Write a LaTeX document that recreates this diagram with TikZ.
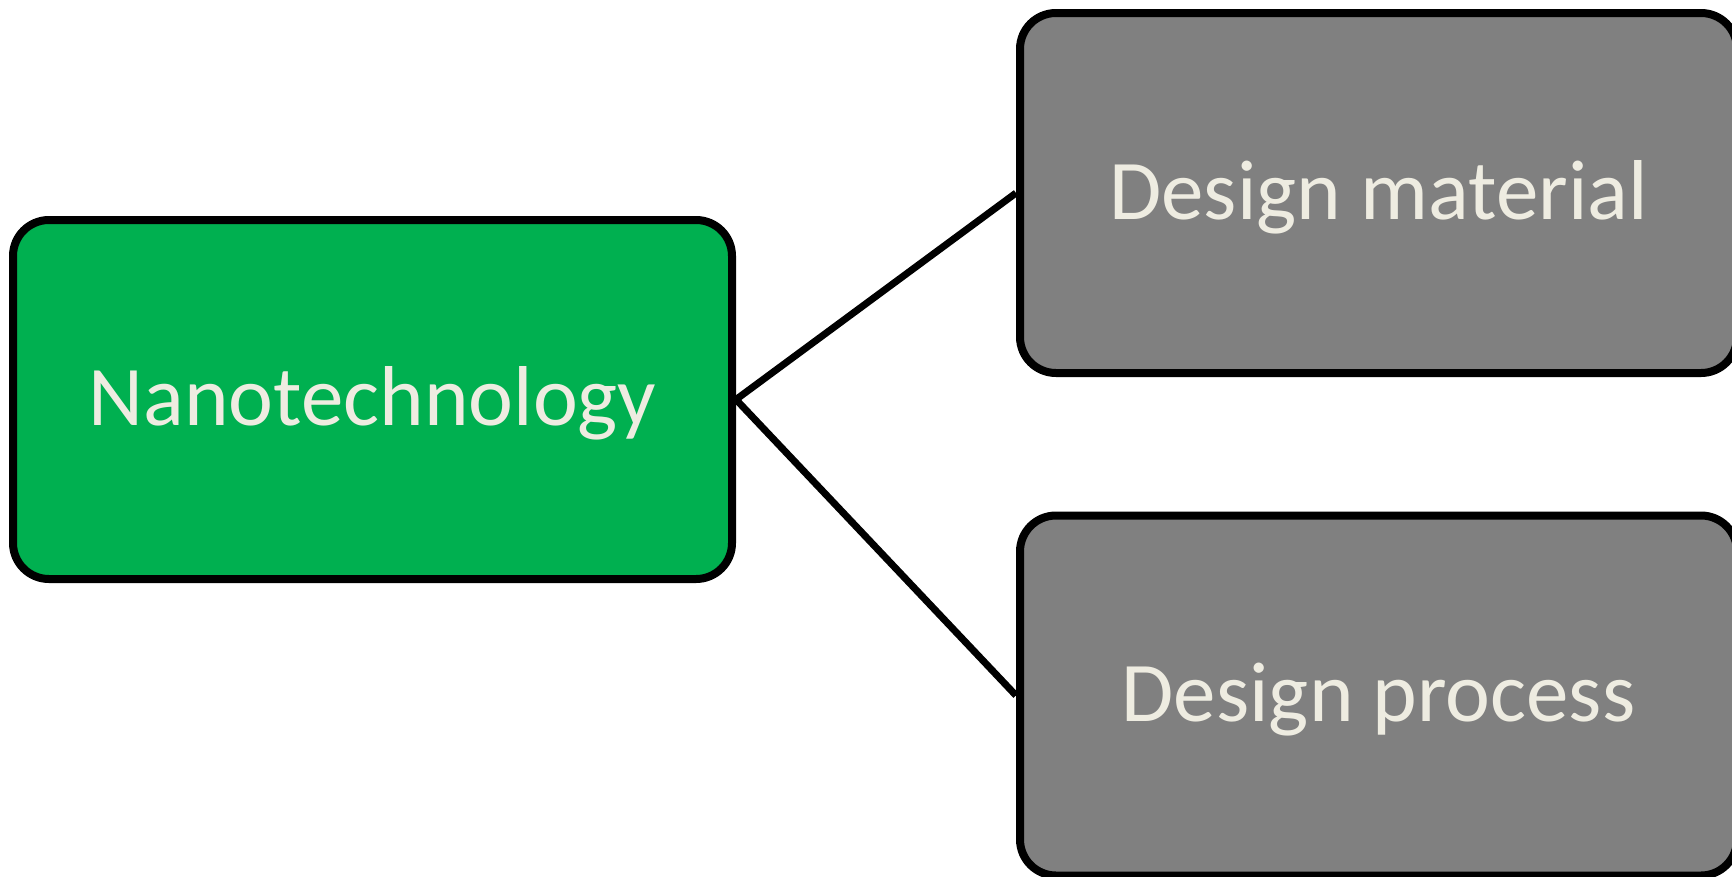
\documentclass[tikz,border=0pt]{standalone}
\usepackage{fontspec}
\setmainfont{Carlito}
\definecolor{nanogreen}{HTML}{00B050}
\definecolor{boxgray}{HTML}{808080}
\definecolor{txtcream}{HTML}{EEECE1}
\begin{document}
\begin{tikzpicture}[x=1pt,y=-1pt,
  blockbox/.style={draw=black, line width=8pt, rounded corners=36pt,
    text=txtcream, font=\fontsize{85}{95}\selectfont,
    text height=52pt, text depth=0pt, inner sep=0pt},
  link/.style={draw=black, line width=7pt}]
\useasboundingbox (0,0) rectangle (1732,876);
\node[blockbox, fill=nanogreen, minimum width=719pt, minimum height=359pt] (nano) at (372.5,399.5) {Nanotechnology};
\node[blockbox, fill=boxgray, minimum width=717pt, minimum height=360pt] (mat) at (1378.5,193) {Design material};
\node[blockbox, fill=boxgray, minimum width=717pt, minimum height=360pt] (proc) at (1378.5,695.5) {Design process};
\draw[link] (nano.east) -- (mat.west);
\draw[link] (nano.east) -- (proc.west);
\end{tikzpicture}
\end{document}
